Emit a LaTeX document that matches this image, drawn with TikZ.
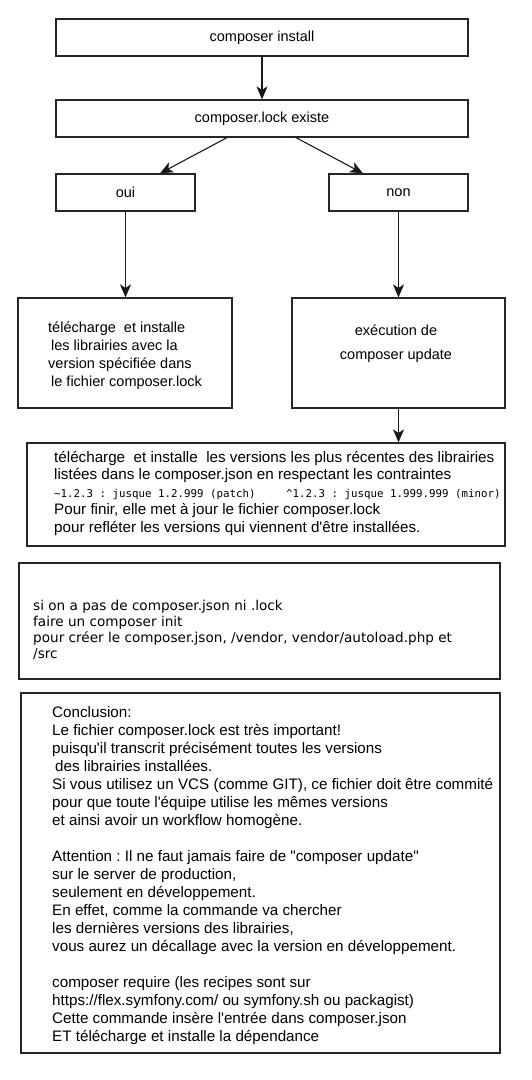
\documentclass[tikz,border=0pt]{standalone}
\usepackage{fontspec}
\setmainfont{Liberation Sans}[Ligatures=TeXOff]
\setmonofont{DejaVu Sans Mono}
\newfontfamily\initfont{DejaVu Sans}
\usetikzlibrary{arrows.meta}
\frenchspacing

\begin{document}
\begin{tikzpicture}[x=1pt, y=-1pt,
    stepbox/.style={rectangle, draw=black!85, line width=1.2pt,
      inner sep=0pt, font=\fontsize{14.5}{18}\selectfont},
    arrow/.style={-{Stealth[length=13pt, width=11pt, inset=3.5pt]},
      line width=1.1pt, draw=black!90},
    txt/.style={inner sep=0pt, align=left, anchor=north west,
      font=\fontsize{14.5}{18}\selectfont}
  ]
  \useasboundingbox[fill=white] (0,0) rectangle (531,1080);
  % boxes
  \node[stepbox, minimum width=412pt, minimum height=37pt] (install) at (262,37.5)
  {composer install};
  \node[stepbox, minimum width=412pt, minimum height=37pt] (lock) at (262,118.5)
  {composer.lock existe};
  \node[stepbox, minimum width=139pt, minimum height=37pt] (oui) at (125.5,192.5) {oui};
  \node[stepbox, minimum width=139pt, minimum height=37pt] (non) at (398.5,192.5) {non};
  \node[stepbox, minimum width=214pt, minimum height=110pt] (dl) at (125,353) {};
  \node[stepbox, minimum width=213pt, minimum height=110pt] (upd) at (398.5,353) {};
  \node[stepbox, minimum width=478pt, minimum height=103pt] (recent) at (266,494.5) {};
  \node[stepbox, minimum width=481pt, minimum height=116pt] (init) at (259.5,621) {};
  \node[stepbox, minimum width=479pt, minimum height=360pt] (concl) at (260.5,873) {};
  % arrows
  \draw[arrow] (install) -- (lock);
  \draw[arrow] ([xshift=-35pt]lock.south) -- ([xshift=34.5pt]oui.north);
  \draw[arrow] ([xshift=34pt]lock.south) -- ([xshift=-35.5pt]non.north);
  \draw[arrow] (oui.south) -- (oui.south |- dl.north);
  \draw[arrow] (non.south) -- (non.south |- upd.north);
  \draw[arrow] (upd.south) -- (upd.south |- recent.north);
  % texts
  \node[txt] (dl-txt) at (48,322)
  {télécharge\ \ et installe\\
    \hspace{3pt}les librairies avec la\\
    version spécifiée dans\\
    \hspace{3pt}le fichier composer.lock};
  \node[txt, anchor=north, align=center, font=\fontsize{14.5}{24}\selectfont]
  (upd-txt) at (396,324.5)
  {exécution de\\composer update};
  \node[txt, font=\fontsize{15.2}{17.5}\selectfont] (recent-txt) at (54,451)
  {télécharge\ \ et installe\ \ les versions les plus récentes des librairies\\
    listées dans le composer.json en respectant les contraintes\\
    {\ttfamily\fontsize{10.8}{17.5}\selectfont
      \makebox[232pt][l]{\textasciitilde1.2.3 : jusque 1.2.999 (patch)}%
      \textasciicircum1.2.3 : jusque 1.999.999 (minor)}\\
    Pour finir, elle met à jour le fichier composer.lock\\
    pour refléter les versions qui viennent d'être installées.};
  \node[txt, font=\initfont\fontsize{13.6}{16}\selectfont] (init-txt) at (33,600)
  {si on a pas de composer.json ni .lock\\
    faire un composer init\\
    pour créer le composer.json, /vendor, vendor/autoload.php et\\
    /src};
  \node[txt, font=\fontsize{15.2}{18}\selectfont] (concl-txt) at (52,706)
  {Conclusion:\\
    Le fichier composer.lock est très important!\\
    puisqu'il transcrit précisément toutes les versions\\
    \hspace{3pt}des librairies installées.\\
    Si vous utilisez un VCS (comme GIT), ce fichier doit être commité\\
    pour que toute l'équipe utilise les mêmes versions\\
    et ainsi avoir un workflow homogène.\\[18pt]
    Attention : Il ne faut jamais faire de "composer update"\\
    sur le server de production,\\
    seulement en développement.\\
    En effet, comme la commande va chercher\\
    les dernières versions des librairies,\\
    vous aurez un décallage avec la version en développement.\\[18pt]
    composer require (les recipes sont sur\\
    https://flex.symfony.com/ ou symfony.sh ou packagist)\\
    Cette commande insère l'entrée dans composer.json\\
    ET télécharge et installe la dépendance};
\end{tikzpicture}
\end{document}
